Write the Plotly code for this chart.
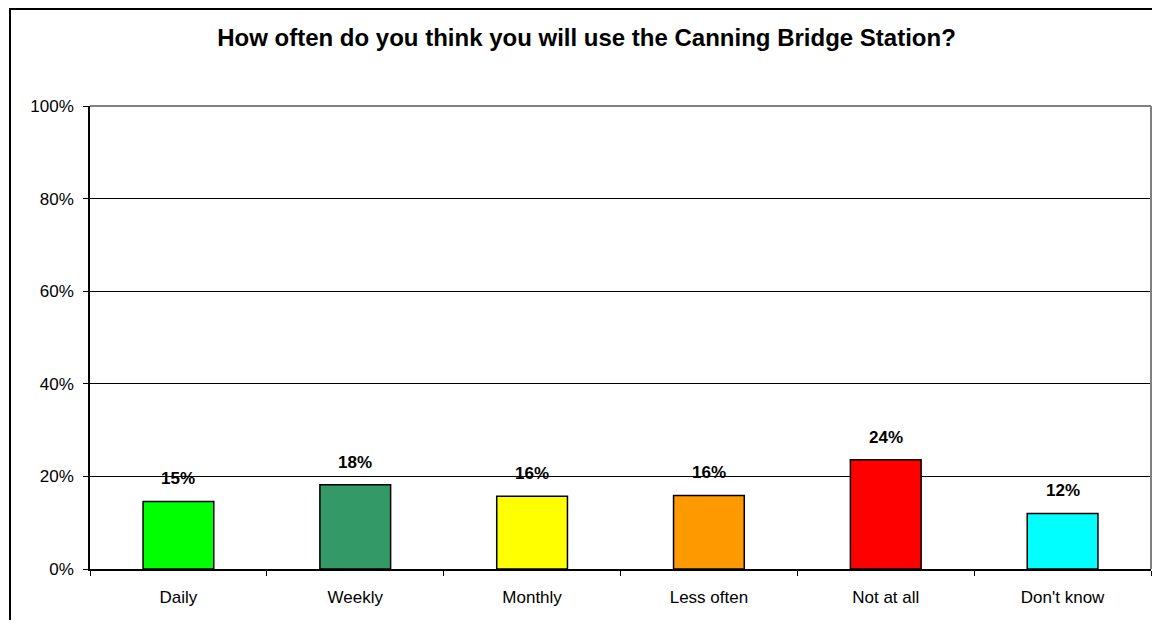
import plotly.graph_objects as go

categories = ["Daily", "Weekly", "Monthly", "Less often", "Not at all", "Don't know"]
values = [14.6, 18.2, 15.7, 15.9, 23.6, 12.0]
labels = ["15%", "18%", "16%", "16%", "24%", "12%"]
colors = ["#00FF00", "#339966", "#FFFF00", "#FF9900", "#FF0000", "#00FFFF"]
y_ticks = [0, 20, 40, 60, 80, 100]
y_tick_text = ["0%", "20%", "40%", "60%", "80%", "100%"]

font = "Arial, Liberation Sans, sans-serif"

fig = go.Figure(go.Bar(x=categories, y=values, width=0.4,
                       marker=dict(color=colors, line=dict(color="black", width=1.5)),
                       hoverinfo="x+y"))

for c, v, t in zip(categories, values, labels):
    fig.add_annotation(x=c, y=v, text="<b>%s</b>" % t, showarrow=False,
                       yanchor="bottom", yshift=11,
                       font=dict(family=font, size=17, color="black"))

# gray plot-area frame (top and right)
fig.add_shape(type="line", xref="paper", yref="paper", x0=0, x1=1, y0=1, y1=1,
              line=dict(color="#808080", width=2), layer="above")
fig.add_shape(type="line", xref="paper", yref="paper", x0=1, x1=1, y0=0, y1=1,
              line=dict(color="#808080", width=2), layer="above")
# outer chart border (runs off the right and bottom edges)
fig.add_shape(type="rect", xref="paper", yref="paper", x0=-0.0754, x1=1.03, y0=-0.2, y1=1.2095,
              line=dict(color="black", width=2), layer="above")

fig.update_layout(
    width=1144, height=612,
    margin=dict(l=82, r=1, t=98, b=51, autoexpand=False),
    paper_bgcolor="white", plot_bgcolor="white",
    showlegend=False,
    font=dict(family=font, size=17, color="black"),
    title=dict(text="<b>How often do you think you will use the Canning Bridge Station?</b>",
               x=0.5057, xanchor="center", yref="container", y=0.952, yanchor="middle",
               font=dict(family=font, size=24, color="black")),
)
fig.update_xaxes(showline=True, linecolor="black", linewidth=1.5, showgrid=False,
                 ticks="outside", tickson="boundaries", ticklen=5, tickcolor="black",
                 ticklabelstandoff=12, automargin=False)
fig.update_yaxes(range=[0, 100], tickvals=y_ticks, ticktext=y_tick_text, showline=True,
                 linecolor="black", linewidth=1.5, showgrid=True, gridcolor="black",
                 gridwidth=1, zeroline=False, ticks="outside", ticklen=5, tickcolor="black",
                 ticklabelstandoff=6, automargin=False)

fig.write_html("out.html")
